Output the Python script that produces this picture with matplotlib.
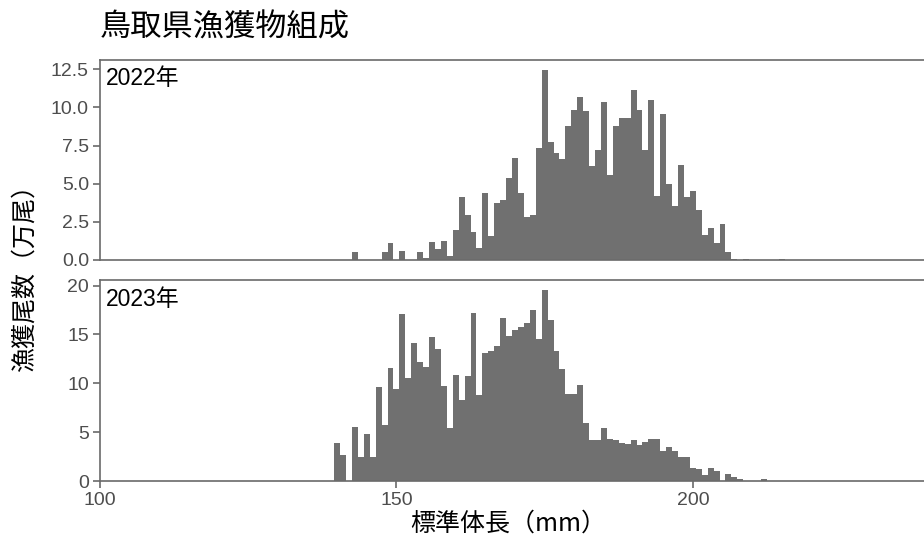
import numpy as np
import matplotlib.pyplot as plt

# 標準体長 (mm) ごとの漁獲尾数 (万尾)
lengths = list(range(140, 216))

catch_2022 = [
    0, 0, 0, 0.54, 0, 0, 0, 0, 0.54, 1.13,
    0, 0.61, 0, 0, 0.54, 0.15, 1.2, 0.72, 1.26, 0.26,
    1.96, 4.14, 2.92, 1.85, 0.81, 4.38, 1.57, 3.73, 3.9, 5.36,
    6.67, 4.42, 2.81, 2.92, 7.32, 12.48, 7.7, 7.04, 6.6, 8.78,
    9.8, 10.68, 9.76, 6.19, 7.19, 10.33, 5.56, 8.76, 9.28, 9.32,
    11.15, 9.8, 7.23, 10.5, 4.18, 9.54, 5.01, 3.53, 6.25, 4.1,
    4.55, 3.25, 1.61, 2.07, 1.09, 2.33, 0.52, 0.09, 0, 0.08,
    0, 0, 0, 0, 0, 0.08,
]

catch_2023 = [
    3.86, 2.63, 0, 5.57, 2.5, 4.82, 2.5, 9.61, 5.71, 11.56,
    9.44, 17.09, 10.53, 14.15, 12.14, 11.62, 14.77, 13.47, 9.68, 5.4,
    10.87, 8.24, 10.77, 17.23, 8.85, 13.13, 13.26, 13.85, 16.68, 14.87,
    15.49, 15.76, 16.17, 17.5, 14.56, 19.59, 16.51, 13.3, 11.45, 8.92,
    8.92, 9.85, 5.98, 4.24, 4.24, 5.44, 4.34, 4.21, 3.86, 3.79,
    4.21, 3.73, 4.03, 4.34, 4.34, 3.11, 3.52, 3.08, 2.5, 2.43,
    1.33, 1.23, 0.62, 1.33, 1.03, 0, 0.7, 0.36, 0.18, 0.05,
    0, 0, 0.17, 0, 0, 0,
]

years = ["2022年", "2023年"]
y_ticks_2022 = [0, 2.5, 5.0, 7.5, 10.0, 12.5]
y_ticks_2023 = [0, 5, 10, 15, 20]
x_ticks = [100, 150, 200]

jp = ["Noto Sans CJK JP", "DejaVu Sans"]
num = ["Liberation Sans", "Noto Sans CJK JP"]
line_col = "#6a6a6a"
text_col = "#4d4d4d"
bar_col = "#707070"

fig = plt.figure(figsize=(9.24, 5.39), dpi=100)
ax1 = fig.add_axes([100 / 924, 1 - 260 / 539, 830 / 924, 200 / 539])
ax2 = fig.add_axes([100 / 924, 1 - 481 / 539, 830 / 924, 201 / 539])

panels = [
    (ax1, catch_2022, y_ticks_2022, "{:.1f}"),
    (ax2, catch_2023, y_ticks_2023, "{:.0f}"),
]

for i, (ax, vals, yt, fmt) in enumerate(panels):
    ax.bar(lengths, vals, width=1.0, color=bar_col, linewidth=0)
    ax.set_xlim(100, 240)
    ax.set_ylim(0, max(vals) * 1.05)
    ax.set_yticks(yt)
    ax.set_yticklabels([fmt.format(v) for v in yt], family=num, fontsize=14, color=text_col)
    for s in ax.spines.values():
        s.set_color(line_col)
        s.set_linewidth(1.2)
    ax.spines["right"].set_visible(False)
    ax.tick_params(axis="y", length=5, width=1.2, color=line_col, pad=3)
    ax.text(6 / 830, 1 - 19 / 200, years[i], transform=ax.transAxes,
            family=num, fontsize=16.5, color="black", va="center", ha="left")

ax1.tick_params(axis="x", length=0, labelbottom=False)
ax2.set_xticks(x_ticks)
ax2.set_xticklabels([str(v) for v in x_ticks], family=num, fontsize=14, color=text_col)
ax2.tick_params(axis="x", length=5, width=1.2, color=line_col, pad=3)

fig.text(100 / 924, 1 - 28 / 539, "鳥取県漁獲物組成", family=jp, fontsize=22.5,
         va="center", ha="left")
fig.text(508 / 924, 1 - 524 / 539, "標準体長（mm）", family=jp, fontsize=18,
         va="center", ha="center")
fig.text(25 / 924, 1 - 272 / 539, "漁獲尾数（万尾）", family=jp, fontsize=18,
         va="center", ha="center", rotation=90)

fig.savefig("out.png", dpi=100)
